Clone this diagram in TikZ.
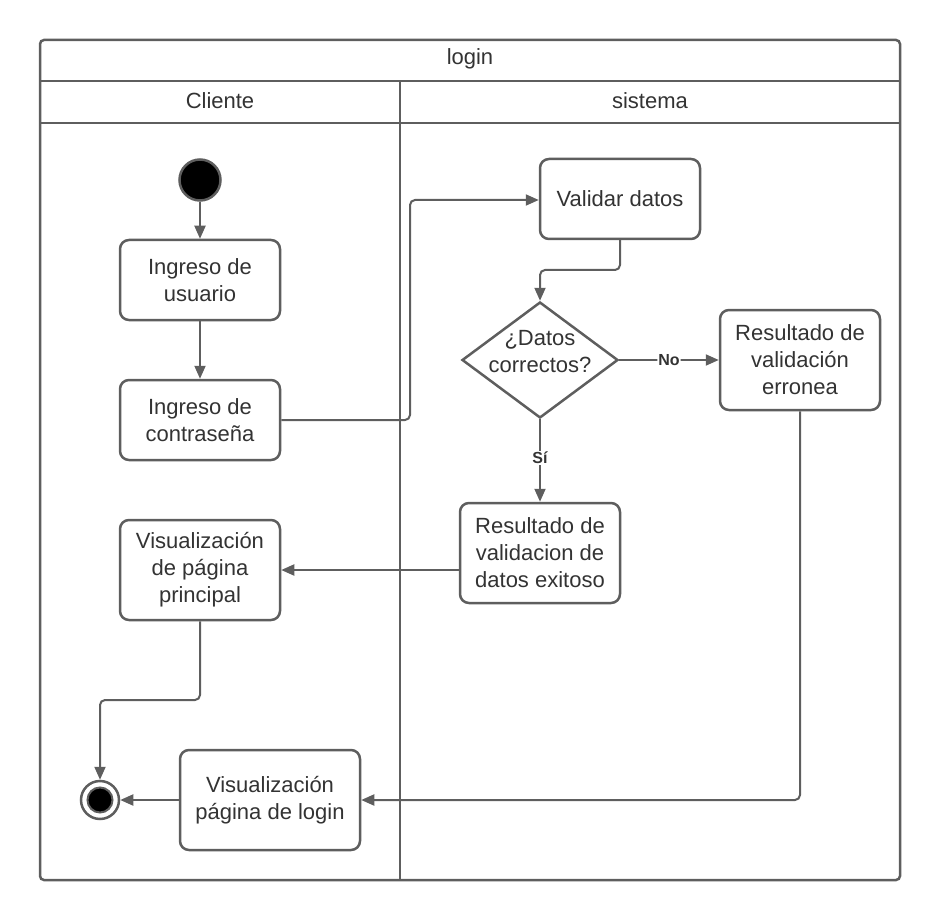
\documentclass[tikz,border=0pt]{standalone}
\usepackage{fontspec}
\setmainfont{Liberation Sans}
\usetikzlibrary{arrows.meta,shapes.geometric}
\definecolor{lc}{HTML}{5E5E5E}
\definecolor{tc}{HTML}{333333}
\newcommand{\bodyfont}{\fontsize{22pt}{27pt}\selectfont}
\newcommand{\lblfont}{\fontsize{16pt}{18pt}\selectfont\bfseries}
\tikzset{
  frame/.style={draw=lc,line width=2.5pt},
  act/.style={draw=lc,line width=2.5pt,rounded corners=9pt,fill=white,align=center,text=tc,font=\bodyfont,inner sep=0pt},
  dec/.style={draw=lc,line width=2.5pt,diamond,fill=white,inner sep=0pt,minimum width=156pt,minimum height=116pt,shape aspect=1.345},
  conn/.style={draw=lc,line width=2pt,rounded corners=5pt,-{Triangle[length=13pt,width=11pt]}},
  lbl/.style={font=\lblfont,text=tc,fill=white,inner sep=1pt},
  hdr/.style={font=\bodyfont,text=tc},
  dtext/.style={align=center,text=tc,font=\bodyfont,inner sep=0pt}
}
\begin{document}
\begin{tikzpicture}[x=1pt,y=-1pt]
\useasboundingbox (0,0) rectangle (940,920);
% frame
\draw[frame,rounded corners=4pt] (40,40) rectangle (900,880);
\draw[frame] (40,81) -- (900,81);
\draw[frame] (40,123) -- (900,123);
\draw[frame] (400,81) -- (400,880);
\node[hdr] (title) at (470,59) {login};
\node[hdr] (lane1) at (220,101) {Cliente};
\node[hdr] (lane2) at (650,101) {sistema};
% nodes
\node[circle,fill=black,draw=lc,line width=2.5pt,minimum size=41pt,inner sep=0pt] (start) at (200,180) {};
\node[act,minimum width=160pt,minimum height=80pt] (usr) at (200,280) {Ingreso de\\usuario};
\node[act,minimum width=160pt,minimum height=80pt] (pwd) at (200,420) {Ingreso de\\contraseña};
\node[act,minimum width=160pt,minimum height=100pt] (ppal) at (200,570) {Visualización\\de página\\principal};
\node[circle,draw=lc,line width=2.5pt,minimum size=38pt,inner sep=0pt] (fin) at (100,800) {};
\node[circle,fill=black,draw=lc,line width=2pt,minimum size=25pt,inner sep=0pt] (finin) at (100,800) {};
\node[act,minimum width=180pt,minimum height=100pt] (vlog) at (270,800) {Visualización\\página de login};
\node[act,minimum width=160pt,minimum height=80pt] (val) at (620,199) {Validar datos};
\node[dec] (chk) at (540,360) {};
\node[dtext] (chktxt) at (540,352) {¿Datos\\correctos?};
\node[act,minimum width=160pt,minimum height=100pt] (err) at (800,360) {Resultado de\\validación\\erronea};
\node[act,minimum width=160pt,minimum height=100pt] (ok) at (540,553) {Resultado de\\validacion de\\datos exitoso};
% connectors
\draw[conn] (start) -- (usr);
\draw[conn] (usr) -- (pwd);
\draw[conn] (pwd.east) -- (410,420) -- (410,200) -- (val.west |- 0,200);
\draw[conn] (val.south) -- (620,270) -- (540,270) -- (chk.north);
\draw[conn] (chk.east) -- node[lbl] (no) {No} (err.west);
\draw[conn] (chk.south) -- node[lbl,pos=0.47] (si) {Sí} (ok.north);
\draw[conn] (ok.west |- 0,570) -- (ppal.east |- 0,570);
\draw[conn] (ppal.south) -- (200,700) -- (100,700) -- (fin.north);
\draw[conn] (err.south) -- (800,800) -- (vlog.east);
\draw[conn] (vlog.west) -- (fin.east);
\end{tikzpicture}
\end{document}
